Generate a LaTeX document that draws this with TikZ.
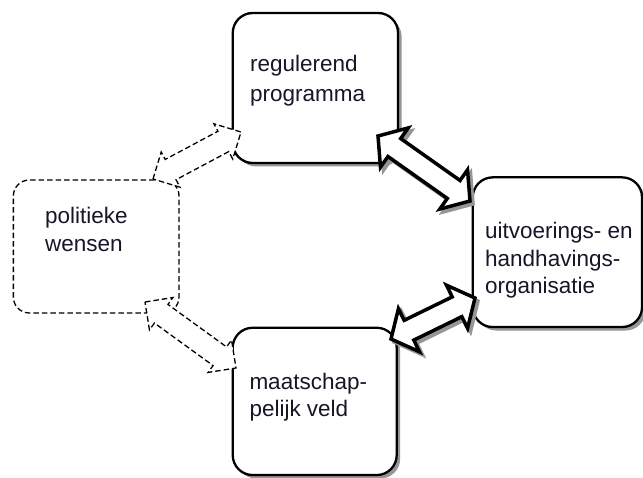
\documentclass[tikz,border=0pt]{standalone}
\usepackage{fontspec}
\setmainfont{Liberation Sans}
\usetikzlibrary{calc,shadows}
\definecolor{txt}{RGB}{22,22,40}
\definecolor{shd}{RGB}{150,150,150}
% #1 style, #2 tip A, #3 tip B, #4 head length, #5 head half width, #6 shaft half width
\newcommand{\hollowarrowpath}[6]{%
  \coordinate (ha) at ($(#2)!#4!(#3)$);
  \coordinate (hb) at ($(#3)!#4!(#2)$);
  \path[#1] (#2) -- ($(ha)!#5!90:(#3)$) -- ($(ha)!#6!90:(#3)$)
    -- ($(hb)!#6!-90:(#2)$) -- ($(hb)!#5!-90:(#2)$) -- (#3)
    -- ($(hb)!#5!90:(#2)$) -- ($(hb)!#6!90:(#2)$)
    -- ($(ha)!#6!-90:(#3)$) -- ($(ha)!#5!-90:(#3)$) -- cycle;
}
\begin{document}
\begin{tikzpicture}[x=1pt,y=-1pt,
  boxshape/.style={draw=black, line width=2.3pt, rounded corners=20pt, fill=white, inner sep=0pt,
    drop shadow={shadow xshift=3.5pt, shadow yshift=-3.5pt, fill=shd, opacity=1}},
  dashbox/.style={draw=black, line width=1.3pt, dash pattern=on 5.5pt off 3pt,
    rounded corners=16pt, fill=white, inner sep=0pt},
  lbl/.style={text=txt, align=left, anchor=north west, inner sep=0pt},
  bigarrow/.style={draw=black, line width=3.5pt, fill=white, line join=miter},
  arrowshadow/.style={draw=shd, line width=3.5pt, fill=shd, line join=miter},
  dasharrow/.style={draw=black, line width=1.3pt, dash pattern=on 5.5pt off 3pt, fill=white},
]
\useasboundingbox[fill=white] (0,0) rectangle (643,478);

% boxes
\node[boxshape, minimum width=165.3pt, minimum height=150pt] (reg) at (315.4,88) {};
\node[boxshape, minimum width=169.3pt, minimum height=149.7pt] (uit) at (557.4,252.2) {};
\node[boxshape, minimum width=164pt, minimum height=147.3pt] (maat) at (314.7,401.4) {};
\node[dashbox, minimum width=165.7pt, minimum height=133pt] (pol) at (96.2,246.5) {};

% arrow tips
\coordinate (d1a) at (153,179);
\coordinate (d1b) at (241,132);
\coordinate (d2a) at (145,302);
\coordinate (d2b) at (236,368);
\coordinate (s1a) at (378,136);
\coordinate (s1b) at (470,201);
\coordinate (s2a) at (391,339);
\coordinate (s2b) at (475,298);
\coordinate (s1as) at ($(s1a)+(3,3)$);
\coordinate (s1bs) at ($(s1b)+(3,3)$);
\coordinate (s2as) at ($(s2a)+(3,3)$);
\coordinate (s2bs) at ($(s2b)+(3,3)$);

% dashed double arrows (politieke wensen)
\hollowarrowpath{dasharrow}{d1a}{d1b}{20pt}{20pt}{11.5pt}
\hollowarrowpath{dasharrow}{d2a}{d2b}{20pt}{20pt}{11.5pt}

% solid double arrows
\hollowarrowpath{arrowshadow}{s1as}{s1bs}{20pt}{24pt}{11pt}
\hollowarrowpath{bigarrow}{s1a}{s1b}{20pt}{24pt}{11pt}
\hollowarrowpath{arrowshadow}{s2as}{s2bs}{20pt}{24pt}{11pt}
\hollowarrowpath{bigarrow}{s2a}{s2b}{20pt}{24pt}{11pt}

% labels
\node[lbl, font=\fontsize{22.5}{28.3}\selectfont] (tpol) at (45,207) {politieke\\wensen};
\node[lbl, font=\fontsize{22.5}{30}\selectfont] (treg) at (250,55.4) {regulerend\\programma};
\node[lbl, font=\fontsize{22.5}{27.5}\selectfont] (tuit) at (485,222) {uitvoerings- en\\handhavings-\\organisatie};
\node[lbl, font=\fontsize{22.5}{27.7}\selectfont] (tmaat) at (249.3,372.7) {maatschap-\\pelijk veld};
\end{tikzpicture}
\end{document}
